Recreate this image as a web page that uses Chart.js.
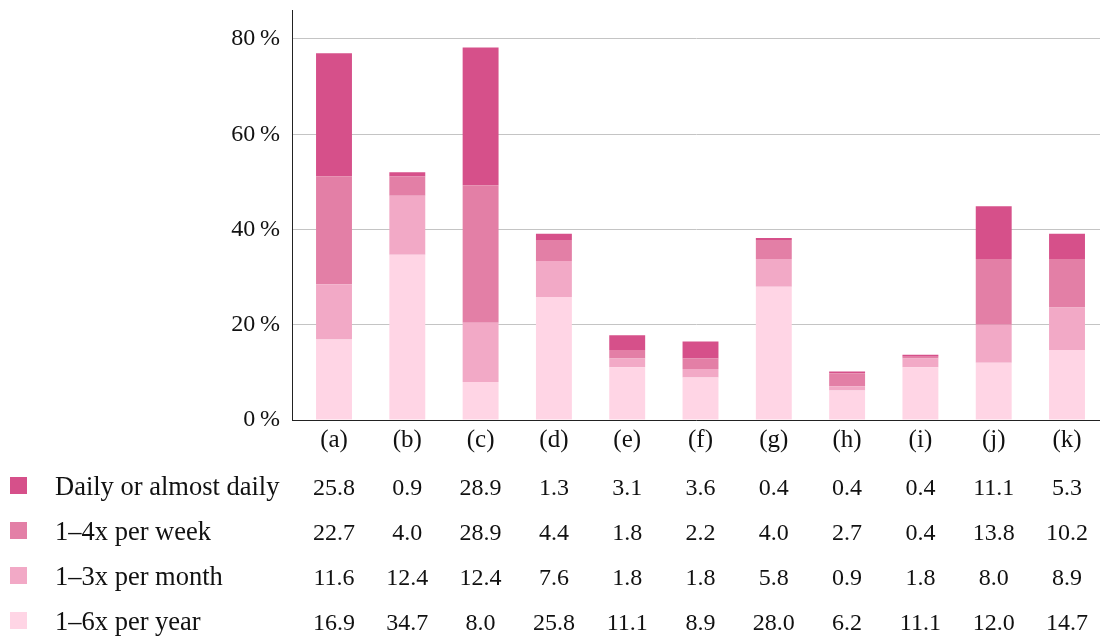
<!DOCTYPE html>
<html>
<head>
<meta charset="utf-8">
<script src="https://cdn.jsdelivr.net/npm/chart.js@4.4.0/dist/chart.umd.min.js"></script>
<style>
  body { margin: 0; background: #fff; overflow: hidden; }
  #chart { display: block; margin-top: -16px; }
</style>
</head>
<body>
<canvas id="chart" width="1100" height="652"></canvas>
<script>
const categories = ["(a)", "(b)", "(c)", "(d)", "(e)", "(f)", "(g)", "(h)", "(i)", "(j)", "(k)"];

const daily   = [25.8, 0.9, 28.9, 1.3, 3.1, 3.6, 0.4, 0.4, 0.4, 11.1, 5.3];
const weekly  = [22.7, 4.0, 28.9, 4.4, 1.8, 2.2, 4.0, 2.7, 0.4, 13.8, 10.2];
const monthly = [11.6, 12.4, 12.4, 7.6, 1.8, 1.8, 5.8, 0.9, 1.8, 8.0, 8.9];
const yearly  = [16.9, 34.7, 8.0, 25.8, 11.1, 8.9, 28.0, 6.2, 11.1, 12.0, 14.7];

const yTicks = [0, 20, 40, 60, 80];

const FONT = "'Liberation Serif', 'Times New Roman', serif";

// rows of the table below, top to bottom
const rows = [
    { label: "Daily or almost daily", values: daily,   color: "#d6508a" },
    { label: "1\u20134x per week",    values: weekly,  color: "#e37fa6" },
    { label: "1\u20133x per month",   values: monthly, color: "#f2a9c6" },
    { label: "1\u20136x per year",    values: yearly,  color: "#ffd5e5" }
];

function toPoints(arr) {
    return arr.map((v, i) => ({ x: i, y: v }));
}

// stack from the bottom: yearly first
let ds = [];
for (let r = rows.length - 1; r >= 0; --r) {
    ds.push({
        label: rows[r].label,
        data: toPoints(rows[r].values),
        backgroundColor: rows[r].color,
        borderWidth: 0,
        barPercentage: 0.49,
        categoryPercentage: 1
    });
}

const tablePlugin = {
    id: "tablePlugin",
    afterDraw(chart) {
        const ctx = chart.ctx;
        const xs = chart.scales.x;
        const base = chart.chartArea.bottom + 75;
        ctx.save();
        ctx.fillStyle = "#111";
        ctx.textBaseline = "alphabetic";
        rows.forEach((row, r) => {
            const y = base + r * 45;
            ctx.fillStyle = row.color;
            ctx.fillRect(10, y - 18, 17, 17);
            ctx.fillStyle = "#111";
            ctx.textAlign = "left";
            ctx.font = "26.5px " + FONT;
            ctx.fillText(row.label, 55, y);
            ctx.textAlign = "center";
            ctx.font = "24px " + FONT;
            row.values.forEach((v, i) => {
                ctx.fillText(v.toFixed(1), xs.getPixelForValue(i), y);
            });
        });
        ctx.restore();
    }
};

new Chart(document.getElementById("chart").getContext("2d"), {
    type: "bar",
    data: { datasets: ds },
    options: {
        responsive: false,
        animation: false,
        layout: { padding: { top: 10, right: 0, bottom: 176, left: 0 } },
        plugins: {
            legend: { display: false },
            tooltip: { enabled: false }
        },
        scales: {
            x: {
                type: "linear",
                stacked: true,
                offset: false,
                bounds: "data",
                min: -0.573,
                max: 10.45,
                grid: { display: false, drawTicks: false, offset: false },
                border: { display: true, color: "#222", width: 1 },
                afterBuildTicks: (s) => {
                    s.ticks = categories.map((c, i) => ({ value: i }));
                    s.min = -0.573;
                    s.max = 10.45;
                },
                ticks: {
                    autoSkip: false,
                    maxRotation: 0,
                    padding: 5,
                    color: "#111",
                    font: { family: FONT, size: 25 },
                    callback: (v) => categories[v] || ""
                }
            },
            y: {
                stacked: true,
                min: 0,
                max: 86,
                afterBuildTicks: (s) => {
                    s.ticks = yTicks.map(v => ({ value: v }));
                    s.min = 0;
                    s.max = 86;
                },
                afterFit: (s) => { s.width = 292; },
                grid: { color: "#c4c4c4", lineWidth: 1, drawTicks: false },
                border: { display: true, color: "#222", width: 1 },
                ticks: {
                    padding: 12,
                    color: "#111",
                    font: { family: FONT, size: 24 },
                    callback: (v) => v + "\u2009%"
                }
            }
        }
    },
    plugins: [tablePlugin]
});
</script>
</body>
</html>
